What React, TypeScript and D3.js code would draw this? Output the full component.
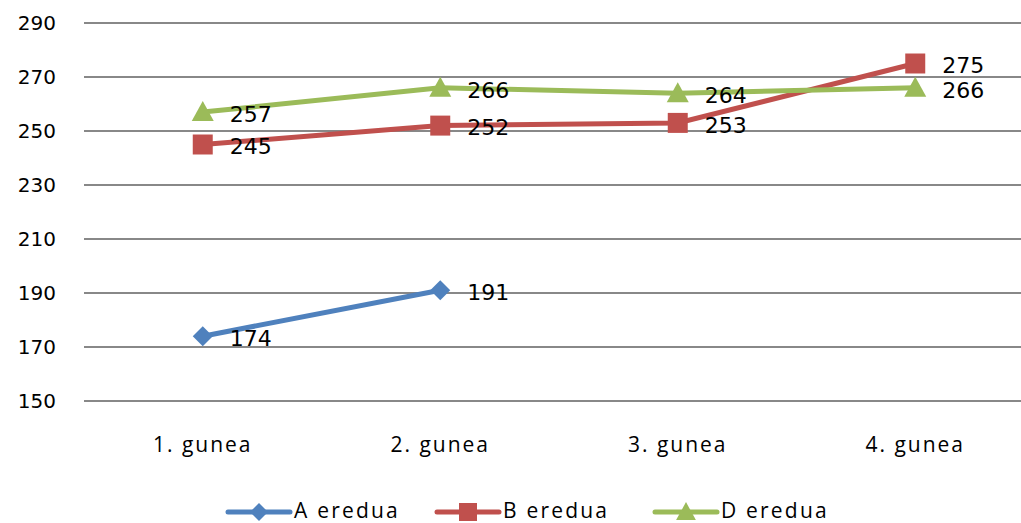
import React from "react";
import * as d3 from "d3";

const categories = ["1. gunea", "2. gunea", "3. gunea", "4. gunea"];
const seriesNames = ["A eredua", "B eredua", "D eredua"];
const seriesA: (number | null)[] = [174, 191, null, null];
const seriesB: (number | null)[] = [245, 252, 253, 275];
const seriesD: (number | null)[] = [257, 266, 264, 266];
const yTicks = [150, 170, 190, 210, 230, 250, 270, 290];

const colors = ["#4F81BD", "#C0504D", "#9BBB59"];

const W = 1021;
const H = 523;

export default function App() {
  const x = d3.scaleBand<string>().domain(categories).range([84, 1034]);
  const y = d3.scaleLinear().domain([150, 290]).range([401, 23]);
  const cx = (c: string) => (x(c) as number) + x.bandwidth() / 2;
  const all = [seriesA, seriesB, seriesD];

  const markerPath = (i: number) => {
    if (i === 0) return "M0,-10L10,0L0,10L-10,0Z";
    if (i === 1) return "M-10,-10H10V10H-10Z";
    return "M0,-11L11,9H-11Z";
  };

  const line = d3
    .line<[string, number | null]>()
    .defined((d) => d[1] !== null)
    .x((d) => cx(d[0]))
    .y((d) => y(d[1] as number));

  const legendX = [228, 437, 655];

  return (
    <svg
      width={W}
      height={H}
      style={{ position: "absolute", left: 0, top: 0, background: "#fff" }}
    >
      {yTicks.map((t) => (
        <g key={t}>
          <line x1={84} x2={W} y1={y(t)} y2={y(t)} stroke="#888" strokeWidth={2} />
          <text
            x={56}
            y={y(t)}
            dy="0.35em"
            textAnchor="end"
            fontFamily="DejaVu Sans"
            fontSize={20}
            fill="#000"
          >
            {t}
          </text>
        </g>
      ))}
      {categories.map((c) => (
        <text
          key={c}
          x={cx(c)}
          y={445}
          dy="0.35em"
          textAnchor="middle"
          fontFamily="Open Sans"
          fontSize={21}
          letterSpacing={2}
          fill="#000"
        >
          {c}
        </text>
      ))}
      {all.map((s, i) => (
        <g key={i}>
          <path
            d={line(categories.map((c, j) => [c, s[j]]) as [string, number | null][]) || ""}
            fill="none"
            stroke={colors[i]}
            strokeWidth={5}
          />
          {categories.map((c, j) =>
            s[j] === null ? null : (
              <g key={c}>
                <path
                  d={markerPath(i)}
                  transform={`translate(${cx(c)},${y(s[j] as number)})`}
                  fill={colors[i]}
                />
                <text
                  x={cx(c) + 27}
                  y={y(s[j] as number) + 2}
                  dy="0.35em"
                  fontFamily="DejaVu Sans"
                  fontSize={22}
                  fill="#000"
                >
                  {s[j]}
                </text>
              </g>
            )
          )}
        </g>
      ))}
      {seriesNames.map((n, i) => (
        <g key={n}>
          <line
            x1={legendX[i]}
            x2={legendX[i] + 62}
            y1={512}
            y2={512}
            stroke={colors[i]}
            strokeWidth={5}
            strokeLinecap="round"
          />
          <path
            d={markerPath(i)}
            transform={`translate(${legendX[i] + 31},512) scale(0.9)`}
            fill={colors[i]}
          />
          <text
            x={legendX[i] + 66}
            y={511}
            dy="0.35em"
            fontFamily="Open Sans"
            fontSize={21}
            letterSpacing={2.2}
            fill="#000"
          >
            {n}
          </text>
        </g>
      ))}
    </svg>
  );
}
